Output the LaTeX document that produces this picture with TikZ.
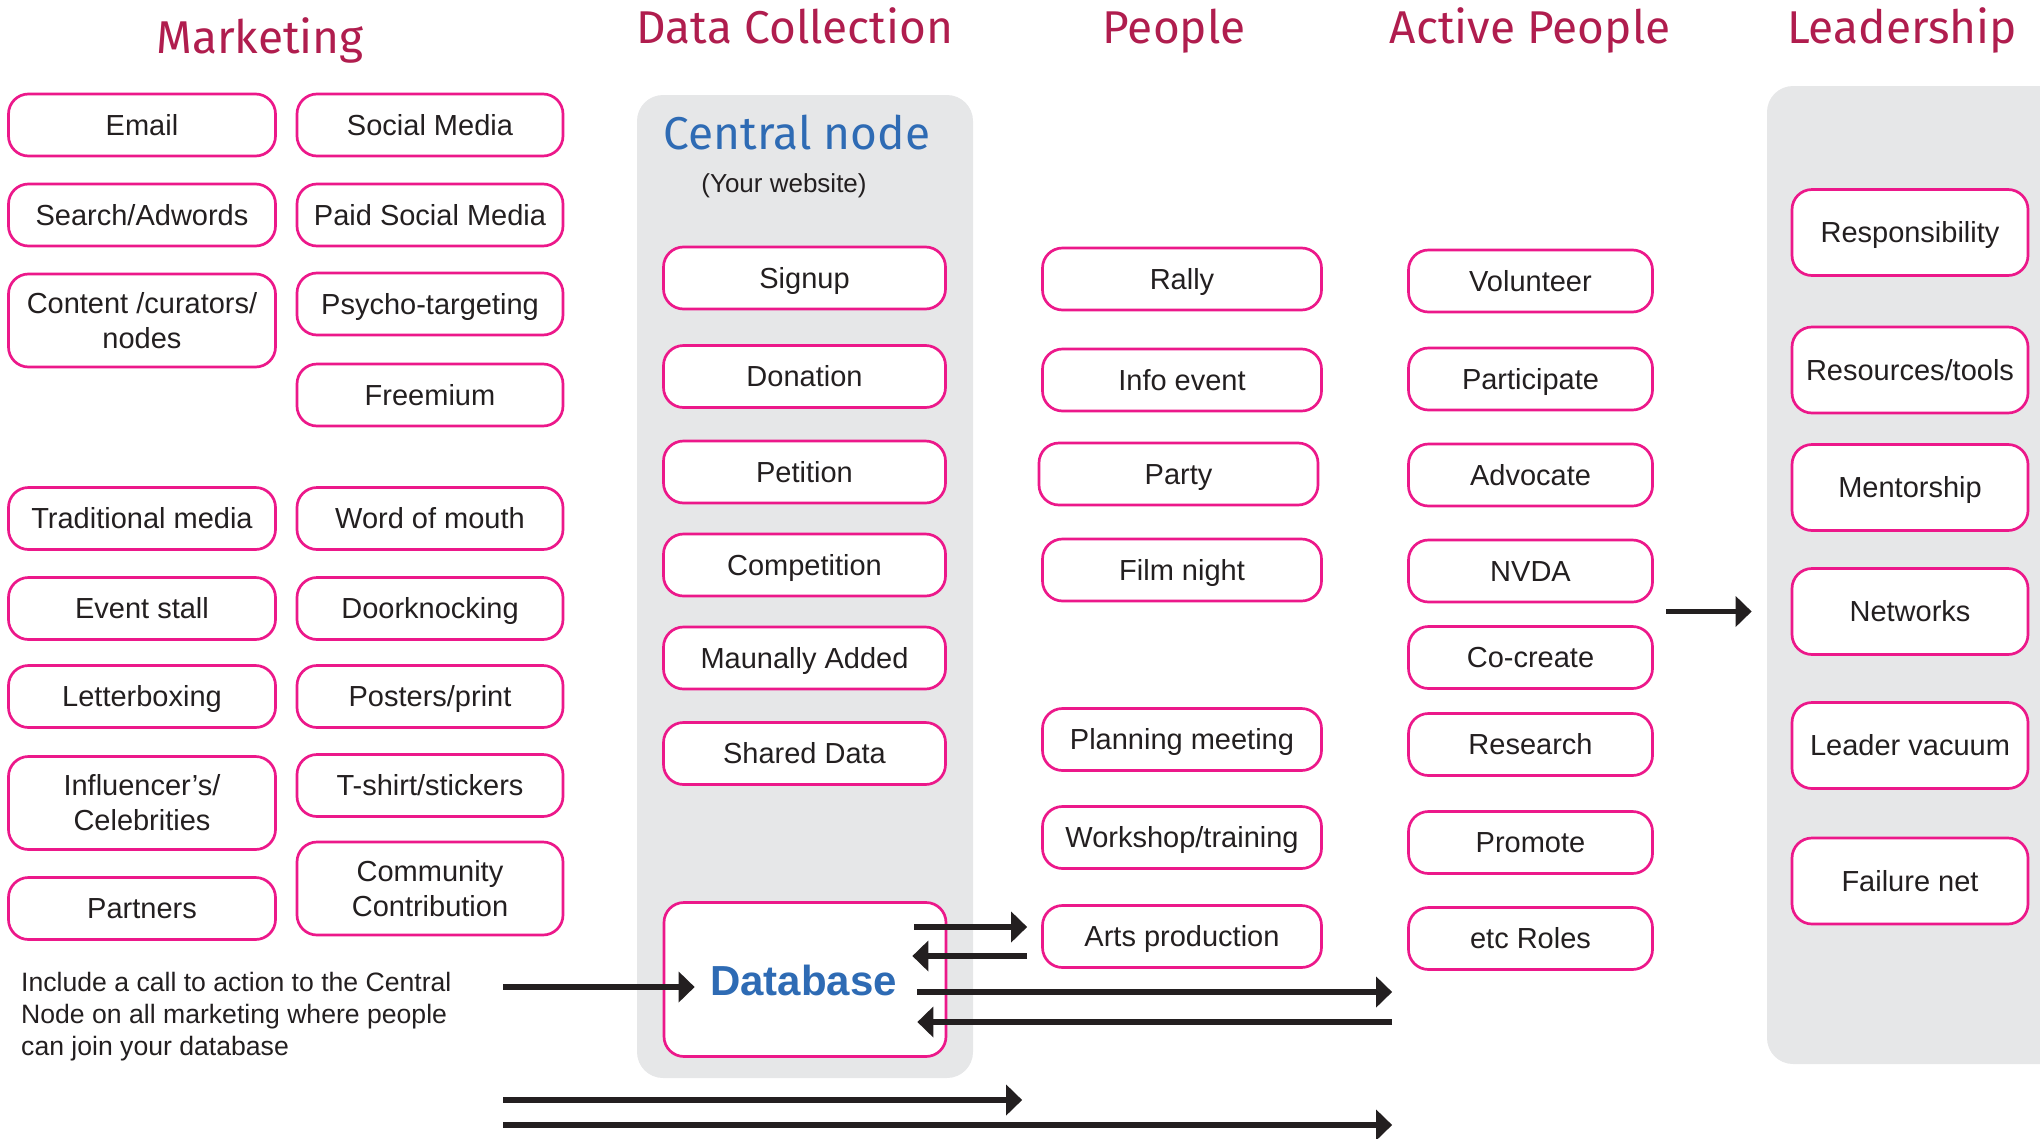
\documentclass[tikz,border=0pt]{standalone}
\usepackage{fontspec}
\setmainfont{Liberation Sans}
\newfontfamily\headfont{Fira Sans}
\usetikzlibrary{arrows.meta}
\definecolor{hotpink}{RGB}{236,24,138}
\definecolor{crimson}{RGB}{176,29,78}
\definecolor{webblue}{RGB}{46,107,180}
\definecolor{panelgray}{RGB}{230,231,232}
\definecolor{ink}{RGB}{35,31,32}

\begin{document}
\begin{tikzpicture}[x=1pt,y=-1pt,
	box/.style={draw=hotpink,line width=2.7pt,rounded corners=20pt,fill=white,text=ink,align=center,inner sep=0pt,font=\fontsize{29}{35}\selectfont},
	one/.style={text height=21pt,text depth=0.5pt},
	two/.style={},
	head/.style={anchor=base,text=crimson,font=\headfont\fontsize{46}{52}\selectfont},
	panel/.style={fill=panelgray,rounded corners=26pt},
	link/.style={draw=ink,line width=5.3pt,-{Triangle[length=16pt,width=30pt]}}]
	\useasboundingbox (0,0) rectangle (2040,1138);
	% grey backgrounds
	\fill[panel] (637,95) rectangle (973,1078);
	\fill[panel] (1767,86) rectangle (2080,1064);
	% column titles
	\node[head] (tmark) at (260,53) {Marketing};
	\node[head] (tdata) at (795,43) {Data Collection};
	\node[head] (tpeop) at (1174,43) {People};
	\node[head] (tactv) at (1530,43) {Active People};
	\node[head] (tlead) at (1902,43) {Leadership};
	% marketing
	\foreach \nm/\yy/\hh/\st/\txt in {mk1/125/62/one/Email,mk2/215/62/one/{Search/Adwords},mk3/320.5/93/two/{Content /curators/\\nodes},
		mk4/518.5/62/one/Traditional media,mk5/608.5/62/one/Event stall,mk6/696.5/62/one/Letterboxing,
		mk7/803/93/two/{Influencer’s/\\Celebrities},mk8/908.5/62/one/Partners}
		\node[box,\st,minimum width=267pt,minimum height=\hh pt] (\nm) at (142,\yy) {\txt};
	\foreach \nm/\yy/\hh/\st/\txt in {ms1/125/62/one/Social Media,ms2/215/62/one/Paid Social Media,ms3/304/62/one/Psycho-targeting,
		ms4/395/62/one/Freemium,ms5/518.5/62/one/Word of mouth,ms6/608.5/62/one/Doorknocking,ms7/696.5/62/one/{Posters/print},
		ms8/785.5/62/one/{T-shirt/stickers},ms9/888.5/93/two/{Community\\Contribution}}
		\node[box,\st,minimum width=266pt,minimum height=\hh pt] (\nm) at (430,\yy) {\txt};
	\node[anchor=north west,align=left,inner sep=0pt,text=ink,font=\fontsize{26.6}{32}\selectfont] (cta) at (21,972)
		{Include a call to action to the Central\\Node on all marketing where people\\can join your database};
	% data collection
	\node[text=webblue,font=\headfont\fontsize{46}{52}\selectfont,anchor=base] (cnode) at (797,149) {Central node};
	\node[text=ink,font=\fontsize{26}{30}\selectfont,anchor=base] (site) at (784,192) {(Your website)};
	\foreach \nm/\yy/\txt in {dc1/278/Signup,dc2/376.5/Donation,dc3/472/Petition,dc4/565/Competition,
		dc5/658/Maunally Added,dc6/753.5/Shared Data}
		\node[box,one,minimum width=282pt,minimum height=62pt] (\nm) at (804.5,\yy) {\txt};
	\node[box,minimum width=282pt,minimum height=154pt] (db) at (805,979.5) {};
	\node[text=webblue,font=\bfseries\fontsize{42}{48}\selectfont] (dbtxt) at (803.5,980) {Database};
	% people
	\foreach \nm/\xx/\yy/\txt in {pp1/1182/279/Rally,pp2/1182/380/Info event,pp3/1178.5/474/Party,pp4/1182/570/Film night,
		pp5/1182/739.5/Planning meeting,pp6/1182/837.5/{Workshop/training},pp7/1182/936.5/Arts production}
		\node[box,one,minimum width=279pt,minimum height=62pt] (\nm) at (\xx,\yy) {\txt};
	% active people
	\foreach \nm/\yy/\txt in {ap1/281/Volunteer,ap2/379/Participate,ap3/475/Advocate,ap4/571/NVDA,
		ap5/657.5/Co-create,ap6/744.5/Research,ap7/842.5/Promote,ap8/938.5/etc Roles}
		\node[box,one,minimum width=244pt,minimum height=62pt] (\nm) at (1530.5,\yy) {\txt};
	% leadership
	\foreach \nm/\yy/\txt in {ld1/232.5/Responsibility,ld2/370/{Resources/tools},ld3/487.5/Mentorship,
		ld4/611.5/Networks,ld5/745.5/Leader vacuum,ld6/881/Failure net}
		\node[box,one,minimum width=236pt,minimum height=86pt] (\nm) at (1910,\yy) {\txt};
	% arrows
	\coordinate (ctaout) at (503,987);
	\coordinate (lowa) at (503,1100);
	\coordinate (lowb) at (503,1125);
	\coordinate (apout) at (1666,611.5);
	\draw[link] (ctaout) -- ([shift={(32,7.5)}]db.west);
	\draw[link] ([shift={(-33,-52.5)}]db.east) -- ([shift={(-14,-9.5)}]pp7.west);
	\draw[link] ([shift={(-14,19.5)}]pp7.west) -- ([shift={(-35,-23.5)}]db.east);
	\draw[link] ([shift={(-30,12.5)}]db.east) -- ([shift={(-15,53.5)}]ap8.west);
	\draw[link] ([shift={(-15,83.5)}]ap8.west) -- ([shift={(-30,42.5)}]db.east);
	\draw[link] (lowa) -- ([shift={(-19,163.5)}]pp7.west);
	\draw[link] (lowb) -- ([shift={(-15,186.5)}]ap8.west);
	\draw[link] (apout) -- ([xshift=-39pt]ld4.west);
\end{tikzpicture}
\end{document}
